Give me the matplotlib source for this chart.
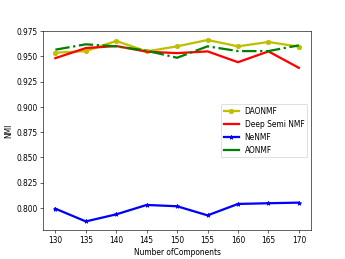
import matplotlib
matplotlib.use("Agg")
import matplotlib.pyplot as plt

components = [130, 135, 140, 145, 150, 155, 160, 165, 170]
daonmf = [0.9537, 0.9553, 0.9653, 0.9550, 0.9600, 0.9663, 0.9600, 0.9643, 0.9597]
deep_semi = [0.9483, 0.9583, 0.9603, 0.9547, 0.9533, 0.9550, 0.9443, 0.9550, 0.9387]
nenmf = [0.7993, 0.7867, 0.7937, 0.8030, 0.8017, 0.7927, 0.8040, 0.8047, 0.8053]
aonmf = [0.9567, 0.9620, 0.9600, 0.9557, 0.9487, 0.9600, 0.9553, 0.9553, 0.9610]

fig, ax = plt.subplots(figsize=(6.4, 4.8), dpi=54)
ax.plot(components, daonmf, color='y', marker='o', linewidth=3, markersize=6, label='DAONMF')
ax.plot(components, deep_semi, color='r', linewidth=3, label='Deep Semi NMF')
ax.plot(components, nenmf, color='b', marker='*', linewidth=3, markersize=6, label='NeNMF')
ax.plot(components, aonmf, color='g', linestyle='-.', linewidth=3, label='AONMF')
ax.set_xlabel('Number ofComponents')
ax.set_ylabel('NMI')
ax.set_yticks([0.800, 0.825, 0.850, 0.875, 0.900, 0.925, 0.950, 0.975])
leg = ax.legend(loc='center right')
leg.get_lines()[3].set_linestyle('-')
fig.savefig('out.png', dpi=54)
